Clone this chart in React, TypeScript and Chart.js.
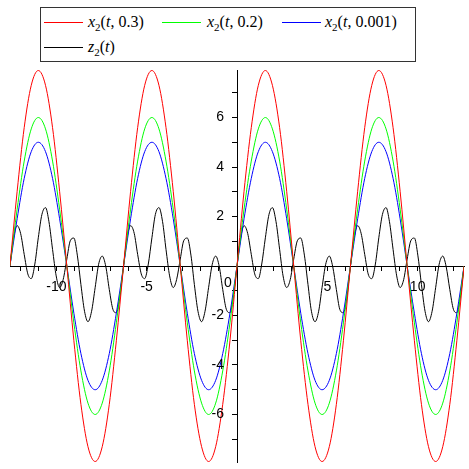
import React, { useEffect, useRef } from 'react';
import { Chart, registerables } from 'chart.js';

Chart.register(...registerables);

// sample positions t (step pi/16, from -4pi to 4pi)
const tValues = [
  -12.57, -12.37, -12.17, -11.98, -11.78, -11.58, -11.39, -11.19, -11.0, -10.8, -10.6, -10.41, -10.21, -10.01, -9.82, -9.62,
  -9.42, -9.23, -9.03, -8.84, -8.64, -8.44, -8.25, -8.05, -7.85, -7.66, -7.46, -7.26, -7.07, -6.87, -6.68, -6.48,
  -6.28, -6.09, -5.89, -5.69, -5.5, -5.3, -5.11, -4.91, -4.71, -4.52, -4.32, -4.12, -3.93, -3.73, -3.53, -3.34,
  -3.14, -2.95, -2.75, -2.55, -2.36, -2.16, -1.96, -1.77, -1.57, -1.37, -1.18, -0.98, -0.79, -0.59, -0.39, -0.2,
  0, 0.2, 0.39, 0.59, 0.79, 0.98, 1.18, 1.37, 1.57, 1.77, 1.96, 2.16, 2.36, 2.55, 2.75, 2.95,
  3.14, 3.34, 3.53, 3.73, 3.93, 4.12, 4.32, 4.52, 4.71, 4.91, 5.11, 5.3, 5.5, 5.69, 5.89, 6.09,
  6.28, 6.48, 6.68, 6.87, 7.07, 7.26, 7.46, 7.66, 7.85, 8.05, 8.25, 8.44, 8.64, 8.84, 9.03, 9.23,
  9.42, 9.62, 9.82, 10.01, 10.21, 10.41, 10.6, 10.8, 11.0, 11.19, 11.39, 11.58, 11.78, 11.98, 12.17, 12.37,
  12.57,
];

// x2(t, 0.3) read at every other t sample
const red03 = [
  0, 3.02, 5.59, 7.3, 7.9, 7.3, 5.59, 3.02, 0, -3.02, -5.59, -7.3, -7.9, -7.3, -5.59, -3.02,
  0, 3.02, 5.59, 7.3, 7.9, 7.3, 5.59, 3.02, 0, -3.02, -5.59, -7.3, -7.9, -7.3, -5.59, -3.02,
  0, 3.02, 5.59, 7.3, 7.9, 7.3, 5.59, 3.02, 0, -3.02, -5.59, -7.3, -7.9, -7.3, -5.59, -3.02,
  0, 3.02, 5.59, 7.3, 7.9, 7.3, 5.59, 3.02, 0, -3.02, -5.59, -7.3, -7.9, -7.3, -5.59, -3.02,
  0,
];

// x2(t, 0.2)
const green02 = [
  0, 2.3, 4.24, 5.54, 6.0, 5.54, 4.24, 2.3, 0, -2.3, -4.24, -5.54, -6.0, -5.54, -4.24, -2.3,
  0, 2.3, 4.24, 5.54, 6.0, 5.54, 4.24, 2.3, 0, -2.3, -4.24, -5.54, -6.0, -5.54, -4.24, -2.3,
  0, 2.3, 4.24, 5.54, 6.0, 5.54, 4.24, 2.3, 0, -2.3, -4.24, -5.54, -6.0, -5.54, -4.24, -2.3,
  0, 2.3, 4.24, 5.54, 6.0, 5.54, 4.24, 2.3, 0, -2.3, -4.24, -5.54, -6.0, -5.54, -4.24, -2.3,
  0,
];

// x2(t, 0.001)
const blue0001 = [
  0, 1.91, 3.54, 4.62, 5.0, 4.62, 3.54, 1.91, 0, -1.91, -3.54, -4.62, -5.0, -4.62, -3.54, -1.91,
  0, 1.91, 3.54, 4.62, 5.0, 4.62, 3.54, 1.91, 0, -1.91, -3.54, -4.62, -5.0, -4.62, -3.54, -1.91,
  0, 1.91, 3.54, 4.62, 5.0, 4.62, 3.54, 1.91, 0, -1.91, -3.54, -4.62, -5.0, -4.62, -3.54, -1.91,
  0, 1.91, 3.54, 4.62, 5.0, 4.62, 3.54, 1.91, 0, -1.91, -3.54, -4.62, -5.0, -4.62, -3.54, -1.91,
  0,
];

// z2(t) read at every t sample
const blackZ2 = [
  0, 1.13, 1.63, 1.32, 0.47, -0.32, -0.51, 0.08, 1.14, 2.08, 2.36, 1.79, 0.67, -0.4, -0.87, -0.54,
  0.28, 1.02, 1.13, 0.44, -0.75, -1.83, -2.25, -1.83, -0.86, 0.07, 0.4, -0.03, -0.95, -1.75, -1.89, -1.21,
  0, 1.13, 1.63, 1.32, 0.47, -0.32, -0.51, 0.08, 1.14, 2.08, 2.36, 1.79, 0.67, -0.4, -0.87, -0.54,
  0.28, 1.02, 1.13, 0.44, -0.75, -1.83, -2.25, -1.83, -0.86, 0.07, 0.4, -0.03, -0.95, -1.75, -1.89, -1.21,
  0, 1.13, 1.63, 1.32, 0.47, -0.32, -0.51, 0.08, 1.14, 2.08, 2.36, 1.79, 0.67, -0.4, -0.87, -0.54,
  0.28, 1.02, 1.13, 0.44, -0.75, -1.83, -2.25, -1.83, -0.86, 0.07, 0.4, -0.03, -0.95, -1.75, -1.89, -1.21,
  0, 1.13, 1.63, 1.32, 0.47, -0.32, -0.51, 0.08, 1.14, 2.08, 2.36, 1.79, 0.67, -0.4, -0.87, -0.54,
  0.28, 1.02, 1.13, 0.44, -0.75, -1.83, -2.25, -1.83, -0.86, 0.07, 0.4, -0.03, -0.95, -1.75, -1.89, -1.21,
  0,
];

const xTicks = [-12, -11, -10, -9, -8, -7, -6, -5, -4, -3, -2, -1, 0, 1, 2, 3, 4, 5, 6, 7, 8, 9, 10, 11, 12];
const xTickLabels = [-10, -5, 5, 10];
const yTicks = [-7, -6, -5, -4, -3, -2, -1, 0, 1, 2, 3, 4, 5, 6, 7];
const yTickLabels = [-6, -4, -2, 2, 4, 6];

const seriesNames = ['x', 'x', 'x', 'z'];
const seriesArgs = [', 0.3', ', 0.2', ', 0.001', ''];
const seriesColors = ['#ff0000', '#00ff00', '#0000ff', '#000000'];

const legendLayout = [
  { lineX: 44, textX: 88, y: 22 },
  { lineX: 162, textX: 207, y: 22 },
  { lineX: 282, textX: 325, y: 22 },
  { lineX: 44, textX: 88, y: 47 },
];

const tickFontCss = '14px "Liberation Sans", Arial, sans-serif';
const tickFont = { family: '"Liberation Sans", Arial, sans-serif', size: 14 };

function LegendLabel({ name, arg }: { name: string; arg: string }) {
  return (
    <span>
      <i>{name}</i>
      <sub style={{ fontSize: 11, verticalAlign: -4, lineHeight: 0 }}>2</sub>
      (<i>t</i>
      {arg})
    </span>
  );
}

export default function App() {
  const ref = useRef<HTMLCanvasElement>(null);

  useEffect(() => {
    if (!ref.current) return;
    const tS = tValues.filter((_, i) => i % 2 === 0);
    const pts = (xs: number[], ys: number[]) => xs.map((x, i) => ({ x, y: ys[i] }));
    const axisLabels = {
      id: 'axisLabels',
      afterDraw(chart: any) {
        const { ctx, scales } = chart;
        const x0 = scales.x.getPixelForValue(0);
        const y0 = scales.y.getPixelForValue(0);
        ctx.save();
        ctx.font = tickFontCss;
        ctx.fillStyle = '#000';
        ctx.textBaseline = 'middle';
        ctx.textAlign = 'right';
        yTickLabels.forEach((v) => {
          ctx.fillText(String(v), x0 - 13, scales.y.getPixelForValue(v));
        });
        ctx.textAlign = 'center';
        ctx.fillText('0', x0 - 9, y0 + 17);
        ctx.restore();
      },
    };
    const seriesData = [pts(tS, red03), pts(tS, green02), pts(tS, blue0001), pts(tValues, blackZ2)];
    const chart = new Chart(ref.current, {
      type: 'scatter',
      data: {
        datasets: seriesData.map((d, i) => ({
          label: seriesNames[i] + '2(t' + seriesArgs[i] + ')',
          data: d,
          showLine: true,
          borderColor: seriesColors[i],
          backgroundColor: seriesColors[i],
          borderWidth: 1,
          pointRadius: 0,
          cubicInterpolationMode: 'monotone',
        })),
      },
      options: {
        animation: false,
        responsive: false,
        layout: { padding: { left: 10, right: 5, top: 70, bottom: 7 } },
        plugins: { legend: { display: false }, tooltip: { enabled: false } },
        scales: {
          x: {
            type: 'linear',
            min: -12.566,
            max: 12.566,
            position: { y: 0 },
            afterBuildTicks: (s: any) => {
              s.ticks = xTicks.map((v) => ({ value: v }));
            },
            grid: { drawOnChartArea: false, drawTicks: true, tickLength: 4, color: '#000', tickColor: '#000' },
            border: { display: true, color: '#000', width: 1 },
            ticks: {
              autoSkip: false,
              maxRotation: 0,
              padding: 9,
              color: '#000',
              font: tickFont,
              callback: (v: any) => (xTickLabels.includes(Number(v)) ? String(v) : ''),
            },
          },
          y: {
            type: 'linear',
            min: -7.92,
            max: 7.92,
            position: { x: 0 },
            afterBuildTicks: (s: any) => {
              s.ticks = yTicks.map((v) => ({ value: v }));
            },
            grid: { drawOnChartArea: false, drawTicks: true, tickLength: 5, color: '#000', tickColor: '#000' },
            border: { display: true, color: '#000', width: 1 },
            ticks: { display: false },
          },
        },
      } as any,
      plugins: [axisLabels],
    });
    return () => chart.destroy();
  }, []);

  return (
    <div style={{ position: 'fixed', left: 0, top: 0, width: 469, height: 469, background: '#fff' }}>
      <canvas ref={ref} width={469} height={469} style={{ position: 'absolute', left: 0, top: 0 }} />
      <div
        style={{
          position: 'absolute',
          left: 40,
          top: 7,
          width: 374,
          height: 53,
          border: '1px solid #333',
          background: '#fff',
        }}
      />
      {legendLayout.map((l, i) => (
        <React.Fragment key={i}>
          <div
            style={{
              position: 'absolute',
              left: l.lineX,
              top: l.y,
              width: 39,
              height: 1,
              background: seriesColors[i],
            }}
          />
          <div
            style={{
              position: 'absolute',
              left: l.textX,
              top: l.y - 11,
              height: 22,
              lineHeight: '22px',
              fontFamily: '"Liberation Serif", "DejaVu Serif", serif',
              fontSize: 16,
              whiteSpace: 'nowrap',
              color: '#000',
            }}
          >
            <LegendLabel name={seriesNames[i]} arg={seriesArgs[i]} />
          </div>
        </React.Fragment>
      ))}
    </div>
  );
}
